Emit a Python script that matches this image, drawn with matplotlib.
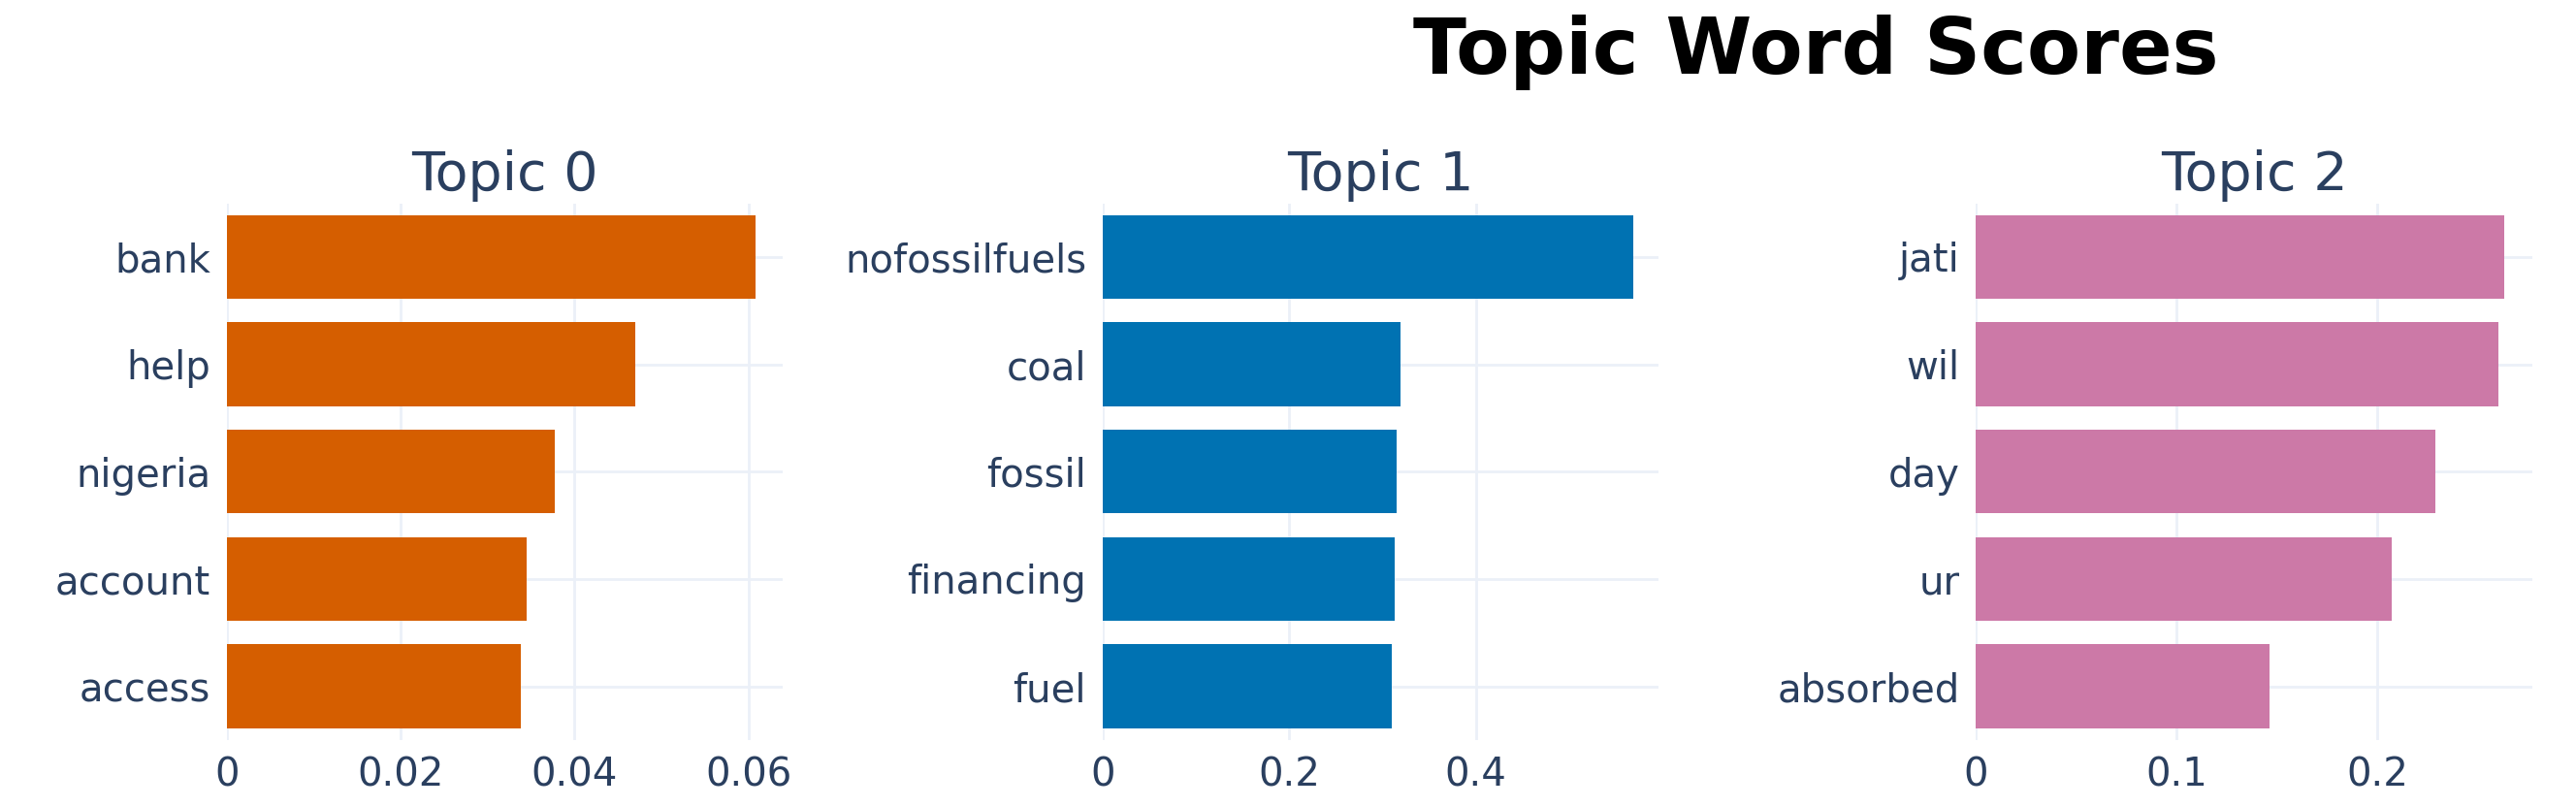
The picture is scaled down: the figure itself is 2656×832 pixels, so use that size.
import matplotlib
matplotlib.use("Agg")
import matplotlib.pyplot as plt

titles = ["Topic 0", "Topic 1", "Topic 2"]
words0 = ["bank", "help", "nigeria", "account", "access"]
scores0 = [0.0608, 0.0470, 0.0377, 0.0345, 0.0338]
words1 = ["nofossilfuels", "coal", "fossil", "financing", "fuel"]
scores1 = [0.568, 0.319, 0.315, 0.313, 0.310]
words2 = ["jati", "wil", "day", "ur", "absorbed"]
scores2 = [0.263, 0.260, 0.229, 0.207, 0.146]
colors = ["#D55E00", "#0072B2", "#CC79A7"]
xticks = [[0, 0.02, 0.04, 0.06], [0, 0.2, 0.4], [0, 0.1, 0.2]]
xticklabels = [["0", "0.02", "0.04", "0.06"], ["0", "0.2", "0.4"], ["0", "0.1", "0.2"]]
xmax = [0.064, 0.596, 0.277]

fig = plt.figure(figsize=(26.56, 8.32), dpi=100)
lefts = [0.088, 0.428, 0.767]
width = 0.216
tc = "#2a3f5f"
for i, (w, s) in enumerate([(words0, scores0), (words1, scores1), (words2, scores2)]):
    ax = fig.add_axes([lefts[i], 0.083, width, 0.665])
    y = list(range(len(w)))[::-1]
    ax.barh(y, s, height=0.78, color=colors[i], zorder=3)
    ax.set_yticks(y)
    ax.set_yticklabels(w)
    ax.set_xticks(xticks[i])
    ax.set_xticklabels(xticklabels[i])
    ax.set_xlim(0, xmax[i])
    ax.set_ylim(-0.5, len(w) - 0.5)
    ax.grid(True, color="#ebf0f8", linewidth=2, zorder=0)
    for sp in ax.spines.values():
        sp.set_visible(False)
    ax.tick_params(length=0, labelsize=29, colors=tc, pad=12)
    ax.set_title(titles[i], fontsize=40, color=tc, pad=10)
fig.text(0.705, 0.935, "Topic Word Scores", fontsize=58, fontweight="bold",
         ha="center", va="center", color="black")
fig.savefig("out.png", dpi=100)
